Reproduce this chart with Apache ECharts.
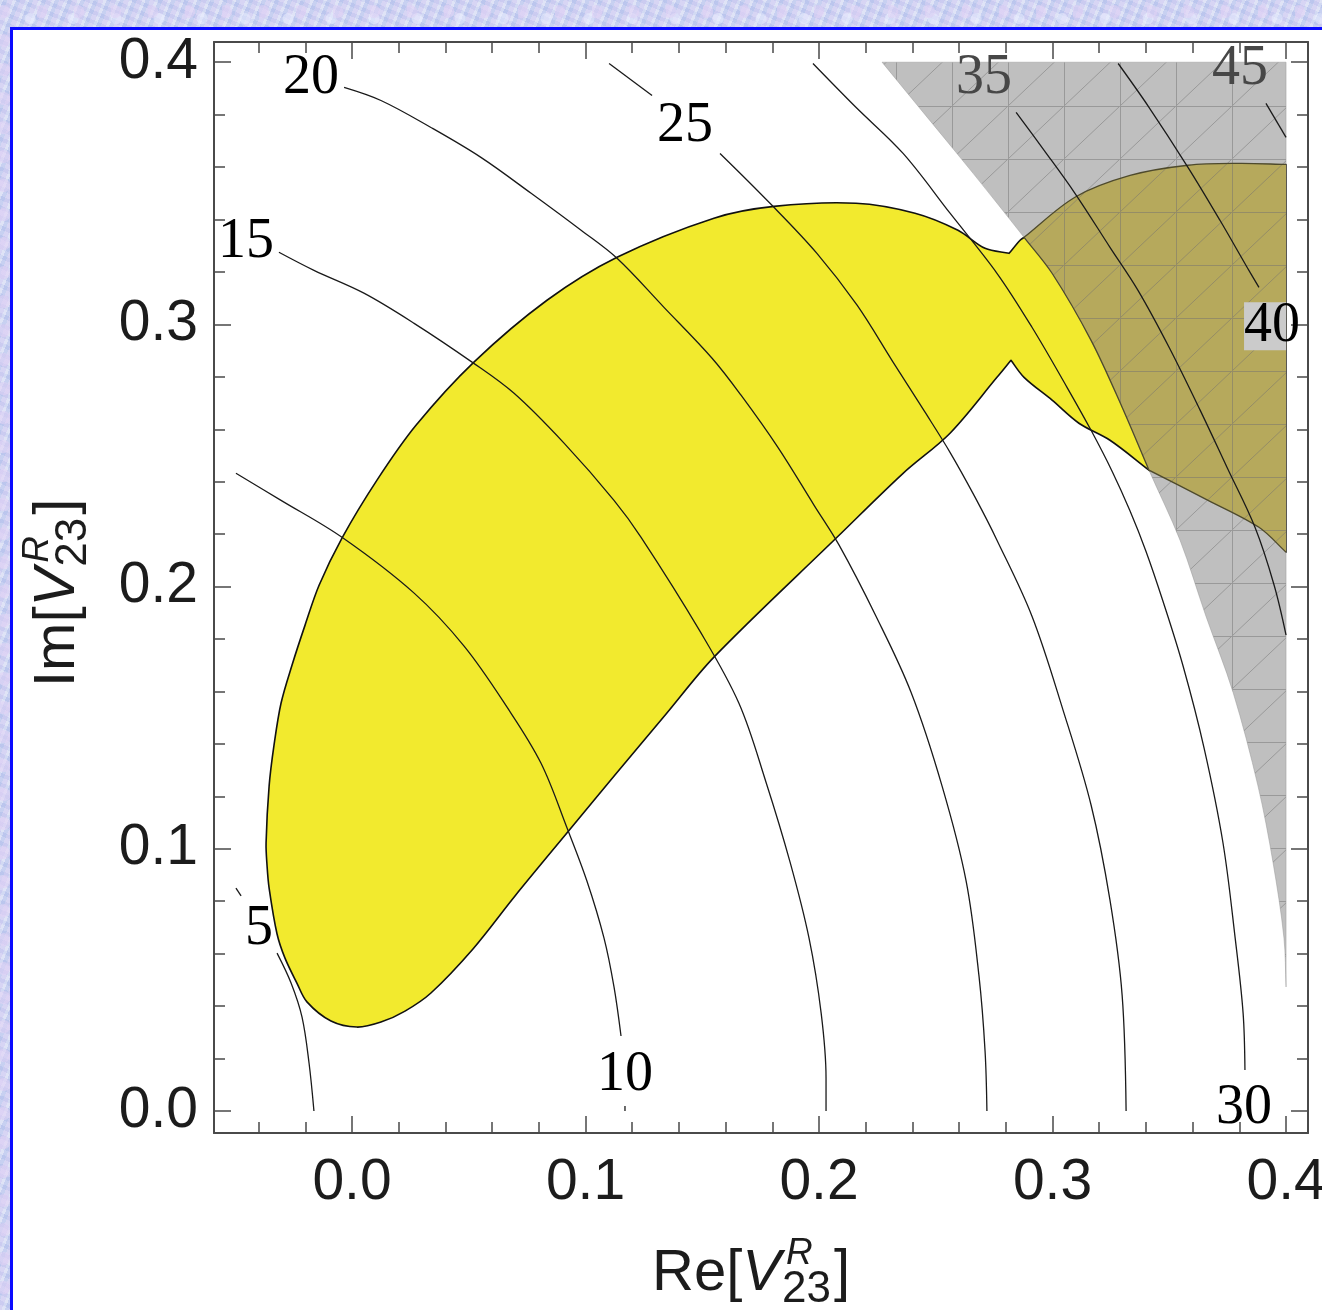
<!DOCTYPE html>
<html>
<head>
<meta charset="utf-8">
<script src="https://cdn.jsdelivr.net/npm/echarts/dist/echarts.min.js"></script>
<style>
html,body{margin:0;padding:0;width:1322px;height:1310px;overflow:hidden;}
body{
  background-color:#c8d0f0;
  background-image:
    radial-gradient(circle at 10% 40%, rgba(225,210,245,0.55) 0 6px, transparent 7px),
    radial-gradient(circle at 70% 60%, rgba(235,240,255,0.5) 0 5px, transparent 6px),
    repeating-linear-gradient(112deg, rgba(255,255,255,0.28) 0 3px, rgba(170,185,235,0.25) 3px 7px, rgba(225,205,245,0.3) 7px 12px),
    repeating-linear-gradient(23deg, rgba(255,255,255,0.18) 0 5px, rgba(160,180,230,0.18) 5px 9px);
  background-size: 37px 29px, 43px 31px, auto, auto;
}
#box{position:absolute;left:10px;top:27px;width:1400px;height:1400px;background:#fff;border-left:3px solid #0b0bff;border-top:3px solid #0b0bff;box-sizing:border-box;}
#chart{position:absolute;left:0;top:0;width:1322px;height:1310px;}
</style>
</head>
<body>
<div id="box"></div>
<div id="chart"></div>
<script>
// ---------------- data ----------------
const xRange = [-0.0591, 0.4094];
const yRange = [-0.0084, 0.4077];
const majorTicks = [0, 0.1, 0.2, 0.3, 0.4];
const xMinorTicks = [-0.04,-0.02,0.02,0.04,0.06,0.08,0.12,0.14,0.16,0.18,0.22,0.24,0.26,0.28,0.32,0.34,0.36,0.38];
const yMinorTicks = [0.02,0.04,0.06,0.08,0.12,0.14,0.16,0.18,0.22,0.24,0.26,0.28,0.32,0.34,0.36,0.38];

// allowed (yellow) region boundary
const yellowRegion = [
  [0.0021,0.0320],[-0.0090,0.0343],[-0.0193,0.0416],[-0.0236,0.0488],[-0.0287,0.0583],[-0.0321,0.0675],
  [-0.0355,0.0850],[-0.0364,0.0938],[-0.0368,0.1022],[-0.0355,0.1239],[-0.0334,0.1395],[-0.0304,0.1555],
  [-0.0257,0.1700],[-0.0201,0.1853],[-0.0141,0.2005],[-0.0043,0.2185],[0.0107,0.2406],[0.0274,0.2615],
  [0.0522,0.2856],[0.0835,0.3092],[0.1135,0.3256],[0.1550,0.3405],[0.1807,0.3450],[0.2158,0.3462],
  [0.2411,0.3424],[0.2595,0.3359],[0.2711,0.3290],[0.2814,0.3271],[0.2861,0.3321],[0.2878,0.3332],
  [0.3096,0.3485],[0.3332,0.3568],[0.3580,0.3607],[0.3799,0.3614],[0.4000,0.3610],[0.4000,0.2131],
  [0.3884,0.2226],[0.3666,0.2329],[0.3413,0.2444],[0.3246,0.2558],[0.3113,0.2623],[0.2998,0.2711],
  [0.2878,0.2798],[0.2822,0.2863],[0.2762,0.2798],[0.2561,0.2585],[0.2360,0.2432],[0.2077,0.2188],
  [0.1550,0.1731],[0.1345,0.1514],[0.1126,0.1281],[0.0938,0.1079],[0.0698,0.0820],[0.0518,0.0618],
  [0.0338,0.0450],[0.0227,0.0381],[0.0124,0.0339]
];
const yellowCorners = [[0.2814,0.3271],[0.2878,0.3332],[0.4000,0.3610],[0.4000,0.2131],[0.3413,0.2444],[0.2822,0.2863]];

// excluded (gray) region
const grayRegion = [
  [0.2270,0.4000],[0.4000,0.4000],[0.4000,0.0473],[0.3991,0.0660],[0.3944,0.0949],[0.3880,0.1239],
  [0.3773,0.1597],[0.3657,0.1887],[0.3546,0.2177],[0.3413,0.2444],[0.3298,0.2684],[0.3165,0.2939],
  [0.2998,0.3195],[0.2878,0.3332],[0.2660,0.3576],[0.2428,0.3828]
];
const grayCorners = [[0.2270,0.4000],[0.4000,0.4000],[0.4000,0.0473]];

// overlap of both regions (olive)
const overlapRegion = [
  [0.4000,0.2131],[0.3884,0.2226],[0.3666,0.2329],[0.3413,0.2444],[0.3298,0.2684],[0.3165,0.2939],
  [0.2998,0.3195],[0.2878,0.3332],[0.3096,0.3485],[0.3332,0.3568],[0.3580,0.3607],[0.3799,0.3614],
  [0.4000,0.3610]
];
const overlapCorners = [[0.4000,0.2131],[0.3413,0.2444],[0.2878,0.3332],[0.4000,0.3610]];

// contour lines
const contour5a = [[-0.0497,0.0850],[-0.0475,0.0820]];
const contour5b = [[-0.0321,0.0602],[-0.0261,0.0488],[-0.0214,0.0358],[-0.0184,0.0183],[-0.0163,0.0]];
const contour10a = [[-0.0497,0.2432],[-0.0304,0.2329],[-0.0043,0.2188],[0.0266,0.1975],[0.0480,0.1773],
  [0.0664,0.1540],[0.0809,0.1327],[0.0921,0.1079],[0.1006,0.0877],[0.1079,0.0660],[0.1122,0.0473],[0.1152,0.0286]];
const contour10b = [[0.1169,0.0019],[0.1169,0.0]];
const contour15 = [[-0.0313,0.3275],[-0.0163,0.3206],[0.0051,0.3119],[0.0266,0.3004],[0.0514,0.2856],
  [0.0694,0.2737],[0.0908,0.2547],[0.1122,0.2329],[0.1238,0.2188],[0.1490,0.1830],[0.1657,0.1555],
  [0.1773,0.1254],[0.1876,0.0949],[0.1957,0.0660],[0.2009,0.0374],[0.2030,0.0126],[0.2030,0.0]];
const contour20 = [[-0.0034,0.3904],[0.0124,0.3854],[0.0338,0.3751],[0.0552,0.3637],[0.0767,0.3500],
  [0.0981,0.3359],[0.1135,0.3252],[0.1336,0.3065],[0.1542,0.2871],[0.1666,0.2730],[0.1824,0.2531],
  [0.1979,0.2310],[0.2086,0.2158],[0.2244,0.1887],[0.2394,0.1597],[0.2527,0.1239],[0.2630,0.0877],
  [0.2685,0.0515],[0.2711,0.0229],[0.2719,0.0]];
const contour25a = [[0.1101,0.3995],[0.1285,0.3873]];
const contour25b = [[0.1576,0.3652],[0.1790,0.3462],[0.1991,0.3271],[0.2163,0.3073],[0.2317,0.2856],
  [0.2454,0.2665],[0.2561,0.2512],[0.2668,0.2341],[0.2762,0.2177],[0.2912,0.1887],[0.3045,0.1529],
  [0.3165,0.1167],[0.3246,0.0804],[0.3298,0.0442],[0.3315,0.0]];
const contour30 = [[0.1974,0.3995],[0.2158,0.3828],[0.2360,0.3652],[0.2561,0.3424],[0.2762,0.3195],
  [0.2912,0.2989],[0.3062,0.2760],[0.3165,0.2596],[0.3255,0.2440],[0.3332,0.2288],[0.3400,0.2135],
  [0.3473,0.1944],[0.3559,0.1697],[0.3649,0.1384],[0.3730,0.1022],[0.3782,0.0660],[0.3816,0.0374],
  [0.3824,0.0156]];
const contour35 = [[0.2844,0.3809],[0.2964,0.3664],[0.3096,0.3500],[0.3246,0.3294],[0.3366,0.3130],
  [0.3499,0.2913],[0.3632,0.2673],[0.3747,0.2455],[0.3867,0.2226],[0.3949,0.2005],[0.4000,0.1815]];
const contour40 = [[0.3281,0.3995],[0.3413,0.3828],[0.3580,0.3599],[0.3717,0.3397],[0.3833,0.3218],[0.3884,0.3141]];
const contour45 = [[0.3914,0.3843],[0.4000,0.3713]];

const contourLabelText = ['5','10','15','20','25','30','35','40','45'];
const contourLabelPos = [[-0.0398,0.0694],[0.1169,0.0137],[-0.0454,0.3313],[-0.0176,0.3938],[0.1426,0.3755],
  [0.3820,0.0011],[0.2707,0.3938],[0.3940,0.2993],[0.3803,0.3973]];

// ---------------- chart ----------------
const chart = echarts.init(document.getElementById('chart'), null, {renderer:'canvas'});
const axisColor = '#4a4a4a';
const textColor = '#1c1c1c';
const serifFont = '"Liberation Serif", "Times New Roman", serif';

function hatch(base, line) {
  const c = document.createElement('canvas');
  c.width = 56; c.height = 53;
  const g = c.getContext('2d');
  g.fillStyle = base; g.fillRect(0, 0, 56, 53);
  g.strokeStyle = line; g.lineWidth = 1;
  g.beginPath();
  g.moveTo(0.5, 0); g.lineTo(0.5, 53);
  g.moveTo(0, 0.5); g.lineTo(56, 0.5);
  g.moveTo(0, 53); g.lineTo(56, 0);
  g.stroke();
  return c;
}
const grayPattern = {image: hatch('#bfbfbf', '#999999'), repeat: 'repeat'};
const olivePattern = {image: hatch('#b6a95c', '#958d66'), repeat: 'repeat'};

function mkAxis(pos, range, ticks, len, showLine, label) {
  return {
    type: 'value', position: pos, gridIndex: 0, min: range[0], max: range[1],
    axisLine: {show: showLine, onZero: false, lineStyle: {color: axisColor, width: 2}},
    axisTick: {show: true, inside: true, length: len, customValues: ticks, lineStyle: {color: axisColor, width: 1.5}},
    axisLabel: label ? Object.assign({show: true, customValues: majorTicks, formatter: v => Number(v).toFixed(1),
      fontSize: 57, fontFamily: '"Liberation Sans", Arial, sans-serif', color: textColor}, label) : {show: false},
    splitLine: {show: false}, minorTick: {show: false}, minorSplitLine: {show: false}
  };
}

// duplicate corner points so the library's smoothing keeps them sharp
function withCorners(pts, corners) {
  const out = [];
  pts.forEach(p => {
    out.push(p);
    if (corners.some(c => c[0] === p[0] && c[1] === p[1])) out.push(p);
  });
  return out;
}

function polySeries(pts, corners, style, z, closed) {
  const ptsC = withCorners(pts, corners);
  return {
    type: 'custom', coordinateSystem: 'cartesian2d', xAxisIndex: 0, yAxisIndex: 0,
    data: pts, z: z, silent: true, animation: false, clip: false,
    renderItem: function (params, api) {
      if (params.dataIndex !== 0) return null;
      return {type: closed ? 'polygon' : 'polyline',
        shape: {points: ptsC.map(p => api.coord(p)), smooth: 0.33}, style: style, silent: true};
    }
  };
}

function lineSeries(pts) {
  return {type: 'line', xAxisIndex: 0, yAxisIndex: 0, data: pts, showSymbol: false, symbol: 'none', smooth: 0.35,
    lineStyle: {color: '#1a1a1a', width: 1.3}, z: 5, silent: true, animation: false};
}

const labelColors = {'35': '#474747', '45': '#474747'};

// axis titles
const mctx = document.createElement('canvas').getContext('2d');
function tw(t, f) { mctx.font = f; return mctx.measureText(t).width; }
function txt(t, x, y, font) {
  return {type: 'text', x: x, y: y, silent: true,
    style: {text: t, font: font, fill: textColor, verticalAlign: 'middle', align: 'left'}};
}
function titleChildren(prefix) {
  const F = '58px "Liberation Sans"', FI = 'italic 58px "Liberation Sans"';
  const FS = 'italic 37px "Liberation Sans"', FB = '44px "Liberation Sans"';
  const ch = [];
  let x = 0;
  ch.push(txt(prefix, x, 0, F)); x += tw(prefix, F);
  ch.push(txt('V', x, 0, FI)); x += tw('V', FI) + 1;
  ch.push(txt('R', x + 4, -20, FS)); ch.push(txt('23', x, 16, FB));
  x += Math.max(tw('R', FS) + 4, tw('23', FB)) + 3;
  ch.push(txt(']', x, 0, F));
  return ch;
}

const option = {
  backgroundColor: 'transparent',
  animation: false,
  grid: {left: 214, top: 42, width: 1094, height: 1091, outerBoundsMode: 'none', containLabel: false},
  xAxis: [
    mkAxis('bottom', xRange, majorTicks, 17, true, {margin: 22}),
    mkAxis('bottom', xRange, xMinorTicks, 11, false, null),
    mkAxis('top', xRange, majorTicks, 17, true, null),
    mkAxis('top', xRange, xMinorTicks, 11, false, null)
  ],
  yAxis: [
    mkAxis('left', yRange, majorTicks, 17, true, {margin: 16}),
    mkAxis('left', yRange, yMinorTicks, 11, false, null),
    mkAxis('right', yRange, majorTicks, 17, true, null),
    mkAxis('right', yRange, yMinorTicks, 11, false, null)
  ],
  series: [
    polySeries(yellowRegion, yellowCorners, {fill: '#f2ea2e', stroke: '#111', lineWidth: 1.6, lineJoin: 'round'}, 1, true),
    polySeries(grayRegion, grayCorners, {fill: grayPattern, stroke: 'rgba(150,150,150,0.6)', lineWidth: 0.8}, 2, true),
    polySeries(overlapRegion, overlapCorners, {fill: olivePattern, stroke: 'none'}, 3, true),
    polySeries(overlapRegion, overlapCorners, {fill: 'none', stroke: '#4e4a2c', lineWidth: 1.3}, 4, false),
    lineSeries(contour5a), lineSeries(contour5b),
    lineSeries(contour10a), lineSeries(contour10b),
    lineSeries(contour15), lineSeries(contour20),
    lineSeries(contour25a), lineSeries(contour25b),
    lineSeries(contour30), lineSeries(contour35),
    lineSeries(contour40), lineSeries(contour45),
    {
      type: 'custom', coordinateSystem: 'cartesian2d', xAxisIndex: 0, yAxisIndex: 0,
      data: contourLabelPos, z: 6, silent: true, animation: false, clip: false,
      renderItem: function (params, api) {
        const i = params.dataIndex;
        const t = contourLabelText[i];
        const c = api.coord(contourLabelPos[i]);
        const children = [];
        if (t === '40') {
          const edge = api.coord([0.4, contourLabelPos[i][1]])[0];
          children.push({type: 'rect', shape: {x: c[0] - 28, y: c[1] - 24, width: edge - (c[0] - 28), height: 48},
            style: {fill: '#cbcbcb'}, silent: true});
        }
        children.push({type: 'text', x: c[0], y: c[1], silent: true,
          style: {text: t, font: '56px ' + serifFont, fill: labelColors[t] || '#000',
            align: 'center', verticalAlign: 'middle'}});
        return {type: 'group', children: children};
      }
    }
  ],
  graphic: [
    {type: 'group', x: 652, y: 1274, children: titleChildren('Re[')},
    {type: 'group', x: 58, y: 687, rotation: Math.PI / 2, children: titleChildren('Im[')}
  ]
};
chart.setOption(option);
</script>
</body>
</html>
